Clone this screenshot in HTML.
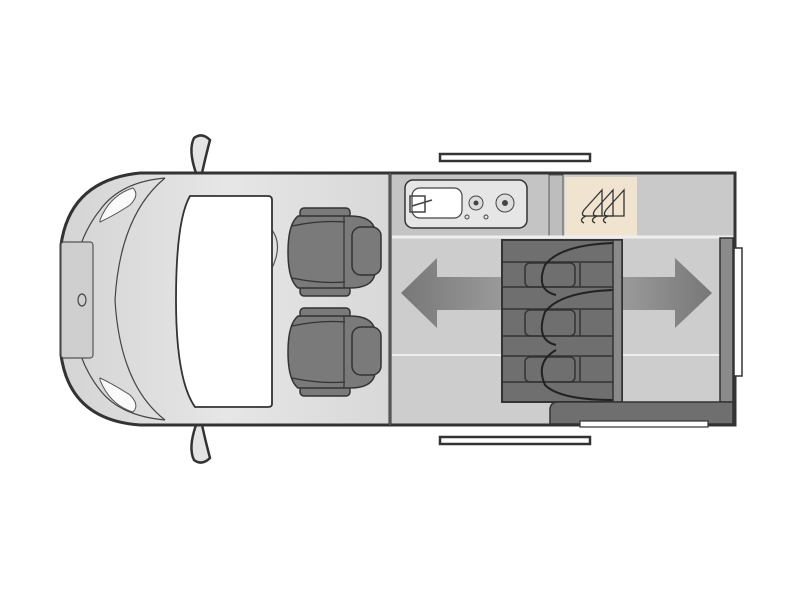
<!DOCTYPE html>
<html><head><style>html,body{margin:0;padding:0;background:#fff;}svg{display:block}</style></head>
<body>
<svg width="800" height="600" viewBox="0 0 800 600" xmlns="http://www.w3.org/2000/svg">
<defs>
<linearGradient id="cab" x1="0" x2="1" y1="0" y2="0">
<stop offset="0" stop-color="#d4d4d4"/><stop offset="0.5" stop-color="#e6e6e6"/><stop offset="1" stop-color="#d8d8d8"/>
</linearGradient>
<linearGradient id="al" x1="0" x2="1"><stop offset="0" stop-color="#777"/><stop offset="1" stop-color="#9a9a9a"/></linearGradient>
<linearGradient id="ar" x1="0" x2="1"><stop offset="0" stop-color="#9a9a9a"/><stop offset="1" stop-color="#777"/></linearGradient>
<g id="seat">
<rect x="300" y="208" width="50" height="10" rx="4" fill="#7a7a7a" stroke="#333" stroke-width="1.5"/>
<rect x="300" y="286" width="50" height="10" rx="4" fill="#7a7a7a" stroke="#333" stroke-width="1.5"/>
<path d="M298,216 L350,216 Q372,216 375,230 L375,274 Q372,288 350,288 L298,288 Q288,280 288,252 Q288,224 298,216Z" fill="#7a7a7a" stroke="#333" stroke-width="1.5"/>
<path d="M292,226 Q320,220 345,222 M292,278 Q320,284 345,282" fill="none" stroke="#333" stroke-width="1.2"/>
<line x1="344" y1="216" x2="344" y2="288" stroke="#333" stroke-width="1.2"/>
<rect x="352" y="227" width="29" height="48" rx="9" fill="#7a7a7a" stroke="#333" stroke-width="1.5"/>
</g>
<path id="hanger" d="M0,0 L-18,20 Q-22,26 -16,26 L0,26 Z M-16,26 Q-24,30 -18,33" fill="none" stroke="#333" stroke-width="1.3"/>
</defs>
<!-- door rails -->
<rect x="440" y="154" width="150" height="7" fill="#fff" stroke="#333" stroke-width="2.5"/>
<rect x="440" y="437" width="150" height="7" fill="#fff" stroke="#333" stroke-width="2.5"/>
<!-- mirrors -->
<path d="M196,173 Q188,150 194,138 Q202,132 210,140 Q206,155 202,173Z" fill="#e4e4e4" stroke="#333" stroke-width="2.5"/>
<path d="M196,425 Q188,448 194,460 Q202,466 210,458 Q206,443 202,425Z" fill="#e4e4e4" stroke="#333" stroke-width="2.5"/>
<!-- cab body -->
<path d="M392,173 L140,173 Q70,180 61,245 L61,355 Q70,420 140,425 L392,425Z" fill="url(#cab)" stroke="#333" stroke-width="3"/>
<path d="M165,178 Q120,182 100,210 Q72,245 72,300 Q72,355 100,390 Q120,416 165,420" fill="none" stroke="#444" stroke-width="1.2"/>
<path d="M165,178 Q120,215 115,300 Q120,385 165,420" fill="none" stroke="#444" stroke-width="1.2"/>
<rect x="61" y="242" width="32" height="116" rx="3" fill="#cfcfcf" stroke="#555" stroke-width="1.2"/>
<ellipse cx="82" cy="300" rx="4" ry="6" fill="none" stroke="#444" stroke-width="1.2"/>
<path d="M100,220 Q110,195 133,188 Q140,195 130,205 Q115,215 100,222Z" fill="#fafafa" stroke="#555"/>
<path d="M100,380 Q110,405 133,412 Q140,405 130,395 Q115,385 100,378Z" fill="#fafafa" stroke="#555"/>
<path d="M272,230 Q283,245 272,268" fill="none" stroke="#555" stroke-width="1.2"/>
<path d="M190,196 L268,196 Q272,196 272,200 L272,404 Q272,407 268,407 L195,407 Q176,380 176,300 Q176,220 190,196Z" fill="#fff" stroke="#333" stroke-width="1.8"/>
<use href="#seat"/>
<use href="#seat" transform="translate(0,100)"/>
<!-- habitation body -->
<rect x="390" y="173" width="345" height="252" fill="#cdcdcd" stroke="#333" stroke-width="3"/>
<line x1="390" y1="173" x2="390" y2="425" stroke="#555" stroke-width="2"/>
<!-- kitchen -->
<rect x="392" y="175" width="156" height="61" fill="#c4c4c4"/>
<rect x="405" y="180" width="122" height="48" rx="8" fill="#e6e6e6" stroke="#333" stroke-width="1.5"/>
<rect x="412" y="188" width="50" height="30" rx="8" fill="#fff" stroke="#444" stroke-width="1.2"/>
<path d="M410,196 L425,196 L425,212 L410,212Z M412,206 L432,200" fill="none" stroke="#444" stroke-width="1.5"/>
<circle cx="476" cy="203" r="7" fill="#ddd" stroke="#444"/><circle cx="476" cy="203" r="2.5" fill="#444"/>
<circle cx="505" cy="203" r="9" fill="#ddd" stroke="#444"/><circle cx="505" cy="203" r="3" fill="#444"/>
<circle cx="467" cy="217" r="2" fill="none" stroke="#444"/><circle cx="486" cy="217" r="2" fill="none" stroke="#444"/>
<rect x="549" y="175" width="14" height="61" fill="#bdbdbd" stroke="#555" stroke-width="1"/>
<rect x="565" y="177" width="72" height="59" fill="#f0e4d0"/>
<use href="#hanger" transform="translate(602,190)"/>
<use href="#hanger" transform="translate(613,190)"/>
<use href="#hanger" transform="translate(624,190)"/>
<rect x="637" y="175" width="96" height="61" fill="#c9c9c9"/>
<line x1="392" y1="237" x2="733" y2="237" stroke="#eee" stroke-width="3"/>
<!-- floor -->
<rect x="392" y="240" width="328" height="162" fill="#cdcdcd"/>
<line x1="392" y1="355" x2="720" y2="355" stroke="#eee" stroke-width="2"/>
<!-- arrows -->
<path d="M502,277 L437,277 L437,258 L401,293 L437,328 L437,310 L502,310Z" fill="url(#al)"/>
<path d="M622,277 L675,277 L675,258 L712,293 L675,328 L675,310 L622,310Z" fill="url(#ar)"/>
<!-- bench -->
<rect x="502" y="240" width="120" height="162" fill="#6f6f6f" stroke="#333" stroke-width="2"/>
<g stroke="#333" stroke-width="1.5" fill="none">
<line x1="502" y1="262" x2="613" y2="262"/><line x1="502" y1="287" x2="613" y2="287"/>
<line x1="502" y1="309" x2="613" y2="309"/><line x1="502" y1="336" x2="613" y2="336"/>
<line x1="502" y1="356" x2="613" y2="356"/><line x1="502" y1="382" x2="613" y2="382"/>
<rect x="525" y="263" width="50" height="24" rx="5"/><line x1="580" y1="263" x2="580" y2="287"/>
<rect x="525" y="310" width="50" height="26" rx="5"/><line x1="580" y1="310" x2="580" y2="336"/>
<rect x="525" y="357" width="50" height="25" rx="5"/><line x1="580" y1="357" x2="580" y2="382"/>
<path d="M613,243 Q560,245 545,265 Q535,290 556,295 M613,290 Q560,292 545,312 Q535,340 556,345 M556,350 Q535,362 545,385 Q560,400 613,400" stroke="#222" stroke-width="2"/>
</g>
<rect x="613" y="240" width="9" height="162" fill="#8a8a8a" stroke="#333" stroke-width="1.5"/>
<!-- right column -->
<rect x="720" y="238" width="13" height="164" fill="#8a8a8a" stroke="#333" stroke-width="1.5"/>
<rect x="734" y="248" width="8" height="128" fill="#fff" stroke="#333" stroke-width="1.5"/>
<!-- step -->
<path d="M550,402 L733,402 L733,424 L550,424 L550,410 Q550,402 558,402Z" fill="#6f6f6f" stroke="#333" stroke-width="1.5"/>
<rect x="580" y="421" width="128" height="6" fill="#fff" stroke="#333" stroke-width="1.2"/>
</svg>
</body></html>
